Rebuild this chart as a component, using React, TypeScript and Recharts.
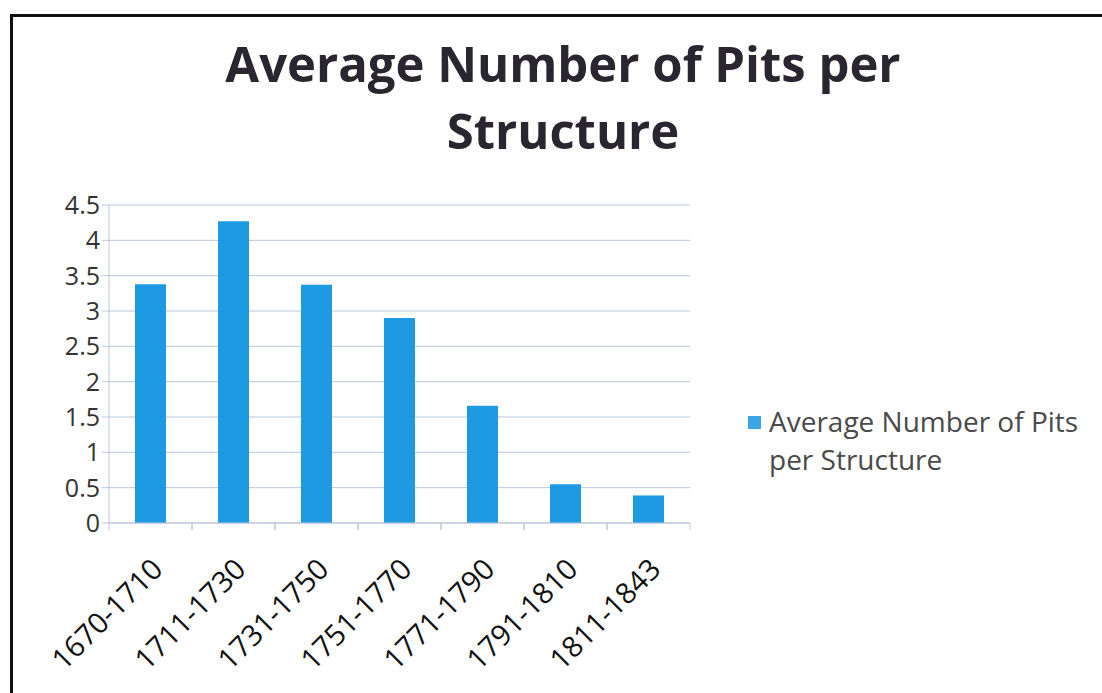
import { BarChart, Bar, XAxis, YAxis, CartesianGrid } from "recharts";

const periods = ["1670-1710", "1711-1730", "1731-1750", "1751-1770", "1771-1790", "1791-1810", "1811-1843"];
const avgPits = [3.38, 4.27, 3.37, 2.9, 1.66, 0.55, 0.39];
const yTicks = [0, 0.5, 1, 1.5, 2, 2.5, 3, 3.5, 4, 4.5];

const seriesName = "Average Number of Pits per Structure";
const data = periods.map((p, i) => ({ period: p, value: avgPits[i] }));

const gridColor = "#bcc6dc";
const barColor = "#1e9ae2";

function XTick(props: any) {
  const { x, y, payload } = props;
  const half = payload && payload.offset ? payload.offset : 41.5;
  const ax = x + 14;
  const ay = y + 40;
  return (
    <g>
      <line x1={x - half} y1={y - 8} x2={x - half} y2={y - 1} stroke={gridColor} />
      <line x1={x + half} y1={y - 8} x2={x + half} y2={y - 1} stroke={gridColor} />
      <text
        x={ax}
        y={ay}
        transform={`rotate(-45 ${ax} ${ay})`}
        textAnchor="end"
        fontSize={29}
        fontFamily="Open Sans"
        fill="#111"
      >
        {payload.value}
      </text>
    </g>
  );
}

export default function App() {
  return (
    <div style={{ position: "absolute", left: 0, top: 0, width: 1102, height: 693, background: "#fff", overflow: "hidden" }}>
      <div
        style={{
          position: "absolute",
          left: 10,
          top: 14,
          width: 1100,
          height: 690,
          borderLeft: "3px solid #111",
          borderTop: "3px solid #111",
        }}
      />
      <div
        style={{
          position: "absolute",
          left: 0,
          top: 30,
          width: 1126,
          textAlign: "center",
          fontFamily: "Open Sans",
          fontWeight: 700,
          fontSize: 49,
          lineHeight: "67px",
          color: "#2a2630",
        }}
      >
        Average Number of Pits per
        <br />
        Structure
      </div>
      <div style={{ position: "absolute", left: 0, top: 0 }}>
        <BarChart width={1102} height={693} data={data} margin={{ top: 205, right: 412, bottom: 0, left: 0 }}>
          <CartesianGrid vertical={false} stroke={gridColor} />
          <XAxis
            dataKey="period"
            stroke={gridColor}
            tickLine={false}
            tick={<XTick />}
            interval={0}
            height={170}
          />
          <YAxis
            width={109}
            domain={[0, 4.5]}
            ticks={yTicks}
            stroke={gridColor}
            tickSize={7}
            tick={{ fontSize: 25, fontFamily: "Open Sans", fill: "#333" }}
            interval={0}
          />
          <Bar dataKey="value" name={seriesName} fill={barColor} barSize={31} isAnimationActive={false} />
        </BarChart>
      </div>
      <div
        style={{
          position: "absolute",
          left: 748,
          top: 402,
          display: "flex",
          fontFamily: "Open Sans",
          fontSize: 28,
          color: "#4a4a4a",
          lineHeight: "38px",
          whiteSpace: "nowrap",
        }}
      >
        <div style={{ width: 13, height: 13, background: "#3aa6e8", marginTop: 14, marginRight: 8, flexShrink: 0 }} />
        <div>
          Average Number of Pits
          <br />
          per Structure
        </div>
      </div>
    </div>
  );
}
